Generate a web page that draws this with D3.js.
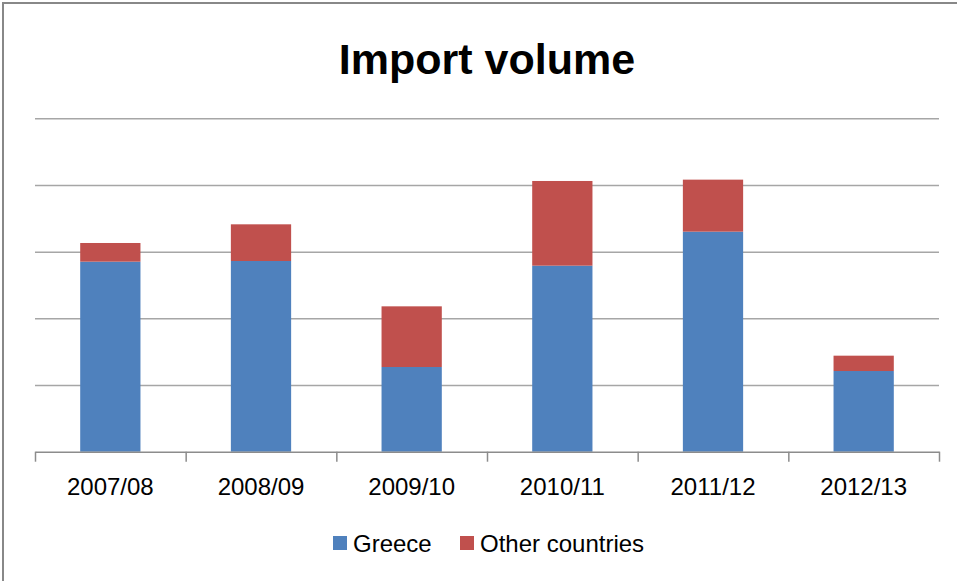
<!DOCTYPE html>
<html>
<head>
<meta charset="utf-8">
<script src="https://cdnjs.cloudflare.com/ajax/libs/d3/7.8.5/d3.min.js"></script>
<style>
  body { margin: 0; background: #fff; }
  svg { display: block; }
  text { font-family: "Liberation Sans", Arial, sans-serif; fill: #000; }
</style>
</head>
<body>
<div id="chart"></div>
<script>
const years = ['2007/08', '2008/09', '2009/10', '2010/11', '2011/12', '2012/13'];
const greece = [2.85, 2.86, 1.27, 2.79, 3.30, 1.21];
const otherCountries = [0.28, 0.55, 0.91, 1.27, 0.78, 0.23];
const seriesNames = ['Greece', 'Other countries'];
const colors = ['#4F81BD', '#C0504D'];
const yTicks = [0, 1, 2, 3, 4, 5];

const W = 957, H = 581;
const m = { top: 118.3, left: 35, right: 18, bottom: 129.3 };
const pw = W - m.left - m.right, ph = H - m.top - m.bottom;

const svg = d3.select('#chart').append('svg').attr('width', W).attr('height', H);

// chart frame
svg.append('rect')
   .attr('x', 3).attr('y', 3)
   .attr('width', W + 10).attr('height', H + 10)
   .attr('fill', '#fff')
   .attr('stroke', '#888').attr('stroke-width', 2);

svg.append('text')
   .attr('x', m.left + pw / 2).attr('y', 74)
   .attr('text-anchor', 'middle')
   .style('font-size', '43px').style('font-weight', 'bold')
   .text('Import volume');

const plot = svg.append('g').attr('transform', `translate(${m.left},${m.top})`);

const x = d3.scaleBand().domain(years).range([0, pw]).paddingInner(0.6).paddingOuter(0.3);
const xEdge = d3.scaleLinear().domain([0, years.length]).range([0, pw]);
const y = d3.scaleLinear().domain([0, 5]).range([ph, 0]);

// gridlines
plot.append('g')
    .call(d3.axisLeft(y).tickValues(yTicks.slice(1)).tickSize(-pw).tickFormat(''))
    .call(g => g.select('.domain').remove())
    .call(g => g.selectAll('line').attr('stroke', '#a6a6a6').attr('stroke-width', 1.5));

// stacked bars
const rows = years.map((yr, i) => ({ year: yr, Greece: greece[i], 'Other countries': otherCountries[i] }));
const stack = d3.stack().keys(seriesNames)(rows);

plot.append('g')
    .selectAll('g')
    .data(stack)
    .join('g')
    .attr('fill', (d, i) => colors[i])
    .selectAll('rect')
    .data(d => d)
    .join('rect')
    .attr('x', d => x(d.data.year))
    .attr('width', x.bandwidth())
    .attr('y', d => y(d[1]))
    .attr('height', d => y(d[0]) - y(d[1]));

// x axis with tick marks between categories
plot.append('g')
    .attr('transform', `translate(0,${ph})`)
    .call(d3.axisBottom(xEdge).ticks(years.length).tickSize(10).tickFormat('').tickSizeOuter(0))
    .call(g => g.selectAll('line, path').attr('stroke', '#8c8c8c').attr('stroke-width', 1.5));

plot.append('g')
    .attr('transform', `translate(0,${ph})`)
    .call(d3.axisBottom(x).tickSize(0).tickPadding(26))
    .call(g => g.select('.domain').remove())
    .call(g => g.selectAll('text').style('font-size', '24px').attr('font-family', null).attr('fill', '#000'));

// legend
const legend = svg.append('g').attr('transform', 'translate(333,543)');
const items = legend.selectAll('g')
    .data(seriesNames)
    .join('g')
    .attr('transform', (d, i) => `translate(${i === 0 ? 0 : 127},0)`);
items.append('rect')
     .attr('x', 0).attr('y', -7).attr('width', 14).attr('height', 14)
     .attr('fill', (d, i) => colors[i]);
items.append('text')
     .attr('x', 20).attr('y', 0).attr('dy', '0.36em')
     .style('font-size', '24px')
     .text(d => d);
</script>
</body>
</html>
